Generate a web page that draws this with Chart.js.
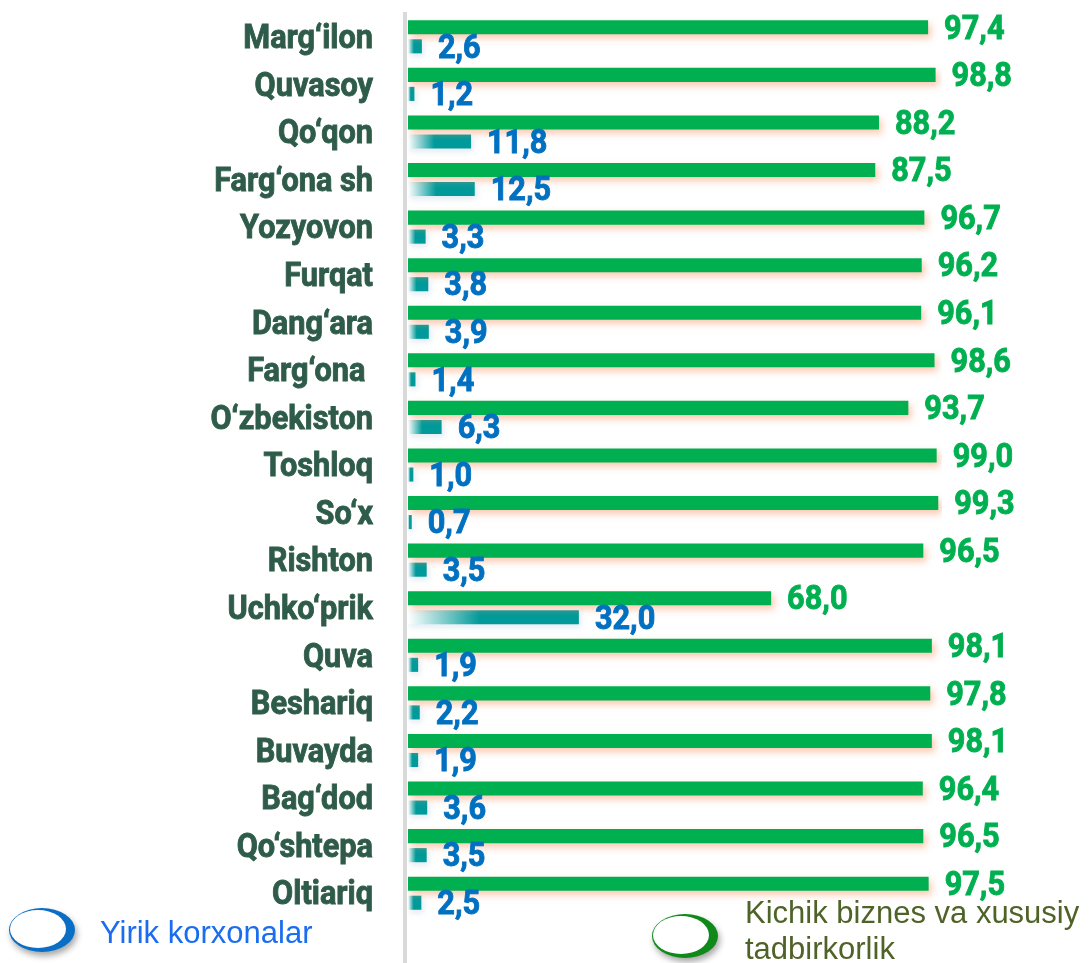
<!DOCTYPE html>
<html>
<head>
<meta charset="utf-8">
<script src="https://cdn.jsdelivr.net/npm/chart.js@4.4.1/dist/chart.umd.min.js"></script>
<style>
  html, body { margin: 0; padding: 0; background: #fff; }
  #wrap { width: 1091px; height: 963px; }
</style>
</head>
<body>
<div id="wrap"><canvas id="chart" width="1091" height="963"></canvas></div>
<script>
// districts, top to bottom
var categories = ['Marg\u2018ilon', 'Quvasoy', 'Qo\u2018qon', 'Farg\u2018ona sh', 'Yozyovon', 'Furqat',
  'Dang\u2018ara', 'Farg\u2018ona ', 'O\u2018zbekiston', 'Toshloq', 'So\u2018x', 'Rishton', 'Uchko\u2018prik',
  'Quva', 'Beshariq', 'Buvayda', 'Bag\u2018dod', 'Qo\u2018shtepa', 'Oltiariq'];
var kichikBiznes = [97.4, 98.8, 88.2, 87.5, 96.7, 96.2, 96.1, 98.6, 93.7, 99.0, 99.3, 96.5, 68.0, 98.1, 97.8, 98.1, 96.4, 96.5, 97.5];
var yirikKorxonalar = [2.6, 1.2, 11.8, 12.5, 3.3, 3.8, 3.9, 1.4, 6.3, 1.0, 0.7, 3.5, 32.0, 1.9, 2.2, 1.9, 3.6, 3.5, 2.5];
var legendNames = ['Yirik korxonalar', 'Kichik biznes va xususiy tadbirkorlik'];

var GREEN = '#00b050';
var TEAL = '#009a9a';

// Roboto bold squeezed a little, stands in for a condensed face
function condensedText(ctx, text, x, y, align, color) {
  ctx.save();
  ctx.font = 'bold 33px Roboto';
  ctx.fillStyle = color;
  ctx.strokeStyle = color;
  ctx.lineWidth = 0.9;
  ctx.textBaseline = 'middle';
  ctx.textAlign = align;
  ctx.translate(x, y);
  ctx.scale(0.93, 1);
  ctx.fillText(text, 0, 0);
  ctx.strokeText(text, 0, 0);
  ctx.restore();
}

function fmt(v) {
  return v.toFixed(1).replace('.', ',');
}

function drawRing(ctx, cx, cy, color) {
  ctx.save();
  ctx.shadowColor = 'rgba(0,0,0,0.35)';
  ctx.shadowBlur = 6;
  ctx.shadowOffsetX = 2;
  ctx.shadowOffsetY = 4;
  ctx.fillStyle = color;
  ctx.beginPath();
  ctx.ellipse(cx, cy, 33, 22, 0, 0, Math.PI * 2);
  ctx.fill();
  ctx.restore();
  ctx.save();
  ctx.fillStyle = '#ffffff';
  ctx.beginPath();
  ctx.ellipse(cx - 4, cy - 1, 28, 19, 0, 0, Math.PI * 2);
  ctx.fill();
  ctx.restore();
}

var decor = {
  id: 'decor',
  beforeDatasetsDraw: function (chart) {
    var ctx = chart.ctx;
    ctx.save();
    ctx.fillStyle = '#d9d9d9';
    ctx.fillRect(403, 12, 4, chart.height - 12);
    ctx.restore();
  },
  beforeDatasetDraw: function (chart, args) {
    var ctx = chart.ctx;
    ctx.save();
    if (args.index === 0) {
      ctx.shadowColor = 'rgba(245,150,100,0.5)';
      ctx.shadowBlur = 7;
      ctx.shadowOffsetX = 3;
      ctx.shadowOffsetY = 4;
    } else {
      ctx.shadowColor = 'rgba(170,195,215,0.35)';
      ctx.shadowBlur = 6;
      ctx.shadowOffsetX = 2;
      ctx.shadowOffsetY = 3;
    }
  },
  afterDatasetDraw: function (chart) {
    chart.ctx.restore();
  },
  afterDatasetsDraw: function (chart) {
    var ctx = chart.ctx;
    var y = chart.scales.y;
    categories.forEach(function (c, i) {
      condensedText(ctx, c, 373, y.getPixelForValue(i) + 3, 'right', '#2f5c4a');
    });
    [0, 1].forEach(function (d) {
      var meta = chart.getDatasetMeta(d);
      var color = d === 0 ? GREEN : '#0070c0';
      meta.data.forEach(function (bar, i) {
        var v = chart.data.datasets[d].data[i];
        condensedText(ctx, fmt(v), bar.x + 16, bar.y + 3, 'left', color);
      });
    });
    // legend
    drawRing(ctx, 42, 930, '#0a6fc4');
    drawRing(ctx, 685, 936, '#0f8a1a');
    ctx.save();
    ctx.font = '31px "Liberation Sans", Arial, sans-serif';
    ctx.textBaseline = 'middle';
    ctx.fillStyle = '#1a6cf0';
    ctx.fillText(legendNames[0], 100, 934);
    ctx.fillStyle = '#4f6228';
    ctx.fillText('Kichik biznes va xususiy', 745, 914);
    ctx.fillText('tadbirkorlik', 745, 950);
    ctx.restore();
  }
};

var ctx = document.getElementById('chart').getContext('2d');
new Chart(ctx, {
  type: 'bar',
  data: {
    labels: categories,
    datasets: [{
      label: legendNames[1],
      data: kichikBiznes,
      backgroundColor: GREEN
    }, {
      label: legendNames[0],
      data: yirikKorxonalar,
      backgroundColor: function (c) {
        var chart = c.chart;
        if (c.type !== 'data' || !chart.chartArea) return TEAL;
        var x = chart.scales.x;
        var x0 = x.getPixelForValue(0);
        var x1 = x.getPixelForValue(c.raw);
        if (x1 - x0 < 1) return TEAL;
        var g = chart.ctx.createLinearGradient(x0, 0, x1, 0);
        g.addColorStop(0, 'rgba(255,255,255,1)');
        g.addColorStop(0.42, TEAL);
        g.addColorStop(1, TEAL);
        return g;
      }
    }]
  },
  options: {
    indexAxis: 'y',
    responsive: false,
    animation: false,
    categoryPercentage: 0.8,
    barPercentage: 0.74,
    layout: { padding: { left: 408, right: 149, top: 13, bottom: 46 } },
    scales: {
      x: { display: false, min: 0, max: 100 },
      y: { display: false }
    },
    plugins: {
      legend: { display: false },
      tooltip: { enabled: false }
    }
  },
  plugins: [decor]
});
</script>
</body>
</html>
